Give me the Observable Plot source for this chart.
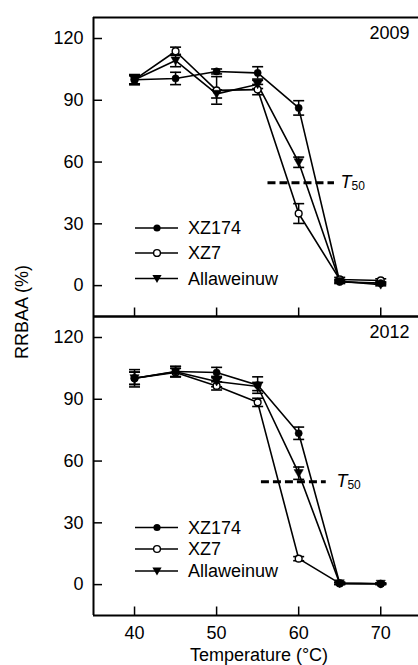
<!DOCTYPE html>
<html>
<head>
<meta charset="utf-8">
<script src="https://cdn.jsdelivr.net/npm/d3@7"></script>
<script src="https://cdn.jsdelivr.net/npm/@observablehq/plot@0.6"></script>
<style>
  html, body { margin: 0; padding: 0; background: #fff; }
  #chart { width: 418px; height: 665px; overflow: hidden; }
</style>
</head>
<body>
<div id="chart"></div>
<script>
// ---------- data ----------
const temps = [40, 45, 50, 55, 60, 65, 70];
const years = [2009, 2012];
const seriesNames = ["XZ174", "XZ7", "Allaweinuw"];

const xz174_2009 = [100, 100.6, 104, 103.3, 86.3, 1.8, 1.2];
const xz174_2009_err = [2.5, 3, 1.2, 3, 3.5, 0.8, 0.5];
const xz7_2009 = [100, 113.8, 94.8, 95.2, 35, 3, 2.5];
const xz7_2009_err = [2, 2, 6.7, 2.5, 4.8, 1, 0.8];
const allaw_2009 = [100, 109.3, 93.1, 97.7, 59.9, 2.2, 0.4];
const allaw_2009_err = [2, 3, 2, 2, 2.5, 0.8, 0.5];

const xz174_2012 = [100.2, 103.5, 103, 96.9, 73.5, 0.6, 0.4];
const xz174_2012_err = [4.2, 2.5, 2.5, 4, 3, 0.5, 0.3];
const xz7_2012 = [100.2, 103, 96.5, 88.5, 12.6, 0.6, 0.4];
const xz7_2012_err = [3, 2, 2, 2, 1, 0.5, 0.3];
const allaw_2012 = [100.2, 103.4, 98.6, 96.2, 54.1, 0.6, 0.4];
const allaw_2012_err = [3, 2.5, 2.5, 2, 3, 0.5, 0.3];

const t50Value = 50;
const t50Start = [56.2, 55.4];
const t50End = [64.3, 63.3];
const t50LabelX = [65.1, 64.6];

const xTicks = [40, 50, 60, 70];
const yTicks = [0, 30, 60, 90, 120];
const xDomain = [35, 74.6];
const yDomain = [-15, 130.2];

// ---------- build tables ----------
const valueTable = {
  2009: [[xz174_2009, xz174_2009_err], [xz7_2009, xz7_2009_err], [allaw_2009, allaw_2009_err]],
  2012: [[xz174_2012, xz174_2012_err], [xz7_2012, xz7_2012_err], [allaw_2012, allaw_2012_err]]
};
const rows = [];
for (const year of years) {
  seriesNames.forEach((s, si) => {
    const [vals, errs] = valueTable[year][si];
    temps.forEach((t, i) => rows.push({year, series: s, temp: t, value: vals[i], err: errs[i]}));
  });
}
const t50Rows = years.map((year, i) => ({year, x1: t50Start[i], x2: t50End[i], lx: t50LabelX[i], y: t50Value}));
const yearRows = years.map(year => ({year, label: String(year)}));

// ---------- custom symbols ----------
const capSymbol = {draw(ctx) { ctx.moveTo(-5.5, 0); ctx.lineTo(5.5, 0); }};
const triDown = {draw(ctx) { ctx.moveTo(-4.6, -3.6); ctx.lineTo(4.6, -3.6); ctx.lineTo(0, 4.4); ctx.closePath(); }};

const W = 418, H = 665, ML = 93, MT = 16, MB = 50;
const facetH = (H - MT - MB) / 2;

const bySeries = s => rows.filter(d => d.series === s);

const plot = Plot.plot({
  width: W, height: H,
  marginLeft: ML, marginRight: 0, marginTop: MT, marginBottom: MB,
  style: {fontFamily: "'Liberation Sans', Arial, sans-serif", fontSize: "18px", color: "#000", background: "#fff"},
  x: {domain: xDomain, ticks: xTicks, tickSize: 0, tickPadding: 11, label: null},
  y: {domain: yDomain, ticks: yTicks, tickSize: 0, tickPadding: 10, label: null},
  fy: {domain: years, padding: 0, axis: null, label: null},
  marks: [
    // frame lines
    Plot.ruleX([xDomain[0]], {stroke: "#000", strokeWidth: 2}),
    Plot.ruleY([yDomain[0], yDomain[1]], {stroke: "#000", strokeWidth: 2}),
    // inward ticks
    Plot.tickY(yTicks, {y: d => d, insetRight: W - ML - 9, stroke: "#000", strokeWidth: 1.5}),
    Plot.tickX(xTicks, {x: d => d, insetTop: facetH - 9, stroke: "#000", strokeWidth: 1.5}),
    // T50 dashed line
    Plot.link(t50Rows, {x1: "x1", x2: "x2", y1: "y", y2: "y", fy: "year", stroke: "#000", strokeWidth: 3, strokeDasharray: "8,4"}),
    Plot.text(t50Rows, {x: "lx", y: "y", fy: "year", text: () => "T", textAnchor: "start", fontStyle: "italic", fontSize: 18}),
    Plot.text(t50Rows, {x: "lx", y: "y", fy: "year", text: () => "50", textAnchor: "start", dx: 11, dy: 4, fontSize: 12}),
    // year labels
    Plot.text(yearRows, {fy: "year", text: "label", frameAnchor: "top-right", dx: -9, dy: 9, fontSize: 18}),
    // series lines
    Plot.line(rows, {x: "temp", y: "value", z: "series", fy: "year", stroke: "#000", strokeWidth: 1.6}),
    // error bars
    Plot.ruleX(rows, {x: "temp", y1: d => d.value - d.err, y2: d => d.value + d.err, fy: "year", stroke: "#000", strokeWidth: 1.5}),
    Plot.dot(rows, {x: "temp", y: d => d.value + d.err, fy: "year", symbol: capSymbol, stroke: "#000", strokeWidth: 1.6}),
    Plot.dot(rows, {x: "temp", y: d => d.value - d.err, fy: "year", symbol: capSymbol, stroke: "#000", strokeWidth: 1.6}),
    // markers
    Plot.dot(bySeries("XZ7"), {x: "temp", y: "value", fy: "year", r: 3.4, fill: "#fff", stroke: "#000", strokeWidth: 1.4}),
    Plot.dot(bySeries("Allaweinuw"), {x: "temp", y: "value", fy: "year", symbol: triDown, fill: "#000", stroke: "#000", strokeWidth: 0.5}),
    Plot.dot(bySeries("XZ174"), {x: "temp", y: "value", fy: "year", r: 3.6, fill: "#000", stroke: "#000", strokeWidth: 0.5})
  ]
});

document.getElementById("chart").appendChild(plot);

// ---------- legend, axis titles ----------
const svg = d3.select(plot.tagName.toLowerCase() === "svg" ? plot : plot.querySelector("svg"));
const legendRows = {2009: [212, 237, 262.5], 2012: [212, 233.5, 255.5]};
years.forEach((year, yi) => {
  const g = svg.append("g").attr("transform", `translate(${ML},${MT + yi * facetH})`);
  seriesNames.forEach((s, si) => {
    const yy = legendRows[year][si];
    g.append("line").attr("x1", 42).attr("x2", 85).attr("y1", yy).attr("y2", yy)
      .attr("stroke", "#000").attr("stroke-width", 1.6);
    if (s === "XZ174") {
      g.append("circle").attr("cx", 64).attr("cy", yy).attr("r", 3.6).attr("fill", "#000");
    } else if (s === "XZ7") {
      g.append("circle").attr("cx", 64).attr("cy", yy).attr("r", 3.4).attr("fill", "#fff")
        .attr("stroke", "#000").attr("stroke-width", 1.4);
    } else {
      g.append("path").attr("d", "M-4.6,-3.6L4.6,-3.6L0,4.4Z").attr("transform", `translate(64,${yy})`).attr("fill", "#000");
    }
    g.append("text").attr("x", 95).attr("y", yy).attr("dy", "0.35em").attr("text-anchor", "start")
      .attr("font-size", 18).attr("fill", "#000").text(s);
  });
});
svg.append("text").attr("x", 259).attr("y", 661).attr("text-anchor", "middle")
  .attr("font-size", 18).attr("fill", "#000").text("Temperature (°C)");
svg.append("text").attr("transform", "translate(28,312) rotate(-90)").attr("text-anchor", "middle")
  .attr("font-size", 18).attr("fill", "#000").text("RRBAA (%)");
</script>
</body>
</html>
